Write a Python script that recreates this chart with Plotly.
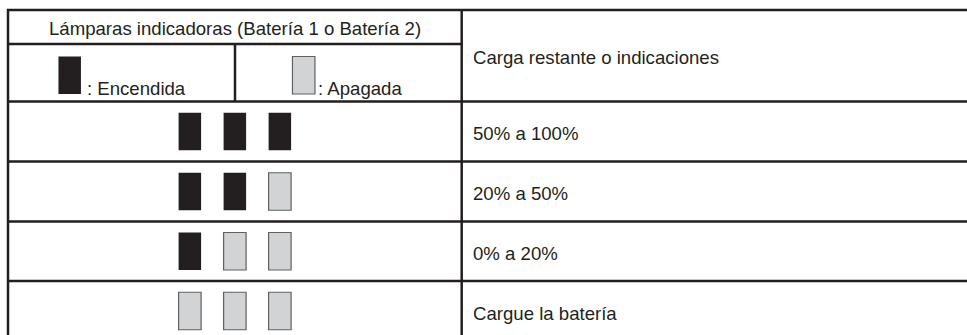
import plotly.graph_objects as go

# ---- data ----
header_left = "Lámparas indicadoras (Batería 1 o Batería 2)"
header_right = "Carga restante o indicaciones"
legend_labels = [": Encendida", ": Apagada"]
legend_states = [1, 0]
charge_labels = ["50% a 100%", "20% a 50%", "0% a 20%", "Cargue la batería"]
lamp_states = [[1, 1, 1], [1, 1, 0], [1, 0, 0], [0, 0, 0]]

# ---- style / layout constants ----
W, H = 967, 335
INK = "#231f20"
OFF_FILL = "#d1d3d4"
OFF_LINE = "#5f6062"
FONT = "Liberation Sans"
FS = 18.6
LW = 2.5

X_LEFT, X_DIV, X_SUB, X_RIGHT = 8, 461.7, 235, 975
Y_TOP, Y_H1 = 10, 44
Y_ROWS = [101.5, 161.5, 221.5, 281, 341]
LAMP_W, LAMP_H = 22.5, 37.5
LAMP_DX = 45
TEXT_X = 470.5

shapes = []
annotations = []


def hline(y, x0, x1):
    shapes.append(dict(type="line", xref="x", yref="y", x0=x0, x1=x1, y0=y, y1=y,
                       line=dict(color=INK, width=LW)))


def vline(x, y0, y1):
    shapes.append(dict(type="line", xref="x", yref="y", x0=x, x1=x, y0=y0, y1=y1,
                       line=dict(color=INK, width=LW)))


def lamp(xc, yc, on):
    shapes.append(dict(type="rect", xref="x", yref="y",
                       x0=xc - LAMP_W / 2, x1=xc + LAMP_W / 2,
                       y0=yc - LAMP_H / 2, y1=yc + LAMP_H / 2,
                       fillcolor=INK if on else OFF_FILL,
                       line=dict(color=INK if on else OFF_LINE, width=0 if on else 1.2)))


def text(x, y, s, xanchor="left"):
    annotations.append(dict(x=x, y=y, xref="x", yref="y", text=s, showarrow=False,
                            xanchor=xanchor, yanchor="middle",
                            font=dict(family=FONT, size=FS, color=INK)))


# grid
hline(Y_TOP, X_LEFT - 1, X_RIGHT)
hline(Y_H1, X_LEFT, X_DIV)
for y in Y_ROWS[:-1]:
    hline(y, X_LEFT - 1, X_RIGHT)
vline(X_LEFT, Y_TOP - 1, H + 5)
vline(X_DIV, Y_TOP, H + 5)
vline(X_SUB, Y_H1, Y_ROWS[0])

# header texts
text((X_LEFT + X_DIV) / 2, 28.5, header_left, xanchor="center")
text(TEXT_X, 57.5, header_right)

# legend (on / off)
leg_lamp_x = [69.7, 303.7]
leg_text_x = [84.5, 316]
leg_y = (Y_H1 + Y_ROWS[0]) / 2 + 2.5
for lx, tx, st, lab in zip(leg_lamp_x, leg_text_x, legend_states, legend_labels):
    lamp(lx, leg_y, st)
    text(tx, 88, lab)

# data rows
col_c = (X_LEFT + X_DIV) / 2
for i, (states, lab) in enumerate(zip(lamp_states, charge_labels)):
    yc = (Y_ROWS[i] + Y_ROWS[i + 1]) / 2
    for j, st in enumerate(states):
        lamp(col_c + (j - 1) * LAMP_DX, yc, st)
    text(TEXT_X, yc + 2, lab)

fig = go.Figure()
fig.update_layout(
    width=W, height=H,
    margin=dict(l=0, r=0, t=0, b=0),
    paper_bgcolor="white", plot_bgcolor="white",
    xaxis=dict(range=[0, W], visible=False, fixedrange=True),
    yaxis=dict(range=[H, 0], visible=False, fixedrange=True),
    shapes=shapes, annotations=annotations, showlegend=False,
)
fig.write_html(
    "out.html",
    config={"displayModeBar": False},
    post_script="document.body.style.margin='0';document.body.style.overflow='hidden';",
)
